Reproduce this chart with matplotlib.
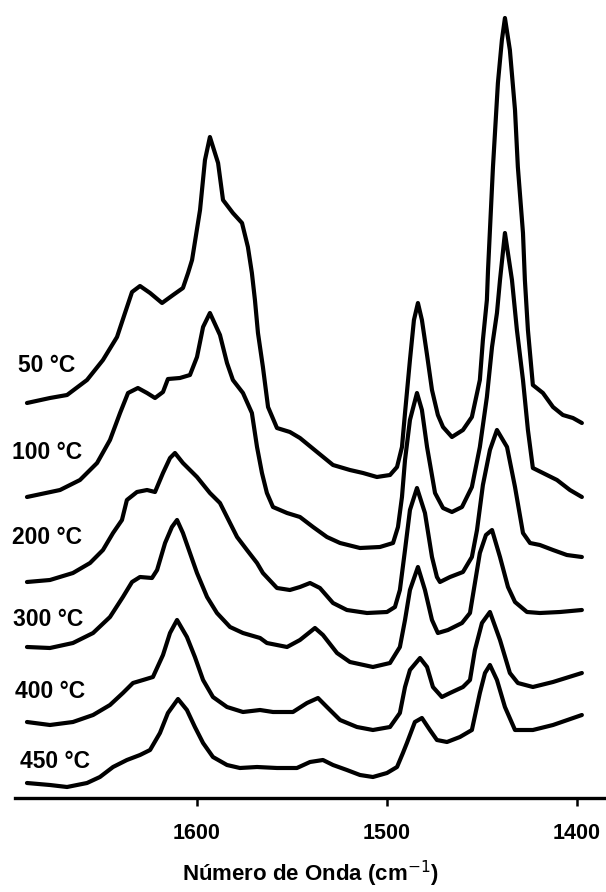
import matplotlib
matplotlib.use("Agg")
import matplotlib.pyplot as plt

plt.rcParams['font.family'] = ['Liberation Sans', 'DejaVu Sans']

# espectros IR (numero de onda en cm-1, absorbancia desplazada en u.a.)
wn_50 = [1689.5, 1677.4, 1668.4, 1657.9, 1649.5, 1642.1, 1637.9, 1634.2, 1630.0, 1624.7,
         1618.4, 1612.6, 1607.4, 1604.7, 1602.6, 1598.4, 1595.8, 1593.2, 1588.9, 1586.3,
         1581.1, 1576.3, 1573.2, 1571.1, 1569.5, 1567.9, 1565.3, 1562.6, 1557.9, 1551.1,
         1545.8, 1536.8, 1528.4, 1519.5, 1512.6, 1505.3, 1498.4, 1494.7, 1492.1, 1490.5,
         1487.9, 1485.8, 1483.7, 1481.6, 1478.9, 1476.3, 1473.2, 1470.5, 1465.8, 1460.0,
         1455.3, 1451.1, 1449.5, 1447.4, 1446.8, 1444.2, 1441.6, 1439.5, 1437.9, 1435.3,
         1432.6, 1431.1, 1428.4, 1427.4, 1425.8, 1423.2, 1417.9, 1412.6, 1407.4, 1402.1,
         1397.4]
a_50 = [3.95, 4.00, 4.03, 4.18, 4.38, 4.61, 4.85, 5.06, 5.12, 5.05,
        4.95, 5.03, 5.10, 5.25, 5.38, 5.88, 6.38, 6.61, 6.35, 5.98,
        5.85, 5.75, 5.51, 5.25, 4.98, 4.65, 4.31, 3.91, 3.70, 3.66,
        3.60, 3.46, 3.33, 3.28, 3.25, 3.21, 3.23, 3.31, 3.51, 3.85,
        4.38, 4.78, 4.95, 4.78, 4.43, 4.08, 3.83, 3.71, 3.61, 3.68,
        3.81, 4.18, 4.58, 4.98, 5.28, 6.31, 7.15, 7.58, 7.80, 7.48,
        6.88, 6.31, 5.65, 5.18, 4.68, 4.13, 4.05, 3.91, 3.83, 3.80,
        3.75]

wn_100 = [1689.5, 1672.1, 1661.6, 1652.6, 1645.8, 1640.5, 1636.3, 1631.1, 1626.3, 1622.1,
          1617.9, 1615.3, 1609.0, 1603.7, 1600.0, 1596.8, 1593.2, 1587.9, 1584.2, 1581.1,
          1575.8, 1571.1, 1568.4, 1565.8, 1563.2, 1560.0, 1552.6, 1545.8, 1538.9, 1531.6,
          1524.7, 1514.2, 1503.7, 1496.8, 1494.2, 1492.1, 1490.5, 1487.9, 1484.2, 1481.6,
          1478.9, 1474.7, 1470.5, 1465.8, 1460.5, 1455.3, 1451.1, 1447.4, 1444.7, 1442.1,
          1440.5, 1437.9, 1434.2, 1431.6, 1428.4, 1425.8, 1423.2, 1417.9, 1410.5, 1403.7,
          1397.4]
a_100 = [3.01, 3.08, 3.18, 3.35, 3.58, 3.85, 4.05, 4.10, 4.05, 4.00,
         4.06, 4.19, 4.20, 4.23, 4.41, 4.71, 4.85, 4.63, 4.35, 4.18,
         4.05, 3.85, 3.51, 3.25, 3.05, 2.91, 2.85, 2.81, 2.71, 2.61,
         2.55, 2.50, 2.51, 2.55, 2.71, 3.01, 3.38, 3.78, 4.05, 3.88,
         3.51, 3.05, 2.90, 2.86, 2.91, 3.11, 3.51, 4.01, 4.51, 4.85,
         5.18, 5.65, 5.18, 4.68, 4.18, 3.68, 3.30, 3.25, 3.18, 3.08,
         3.01]

wn_200 = [1689.5, 1677.4, 1665.3, 1656.3, 1649.5, 1644.2, 1639.5, 1636.9, 1631.6, 1626.3,
          1622.1, 1617.9, 1614.2, 1611.6, 1607.4, 1600.0, 1593.2, 1587.9, 1584.2, 1578.9,
          1573.7, 1568.4, 1565.3, 1557.9, 1551.1, 1545.8, 1540.5, 1535.3, 1528.4, 1521.1,
          1510.5, 1500.0, 1495.8, 1493.2, 1490.5, 1487.9, 1484.2, 1480.0, 1476.3, 1473.7,
          1472.1, 1466.8, 1460.0, 1455.3, 1452.6, 1449.5, 1445.8, 1442.1, 1436.8, 1432.6,
          1428.4, 1424.7, 1419.5, 1412.6, 1405.3, 1397.4]
a_200 = [2.16, 2.18, 2.25, 2.35, 2.48, 2.65, 2.78, 2.98, 3.06, 3.08,
         3.06, 3.25, 3.40, 3.45, 3.35, 3.21, 3.05, 2.95, 2.81, 2.61,
         2.48, 2.35, 2.25, 2.10, 2.08, 2.11, 2.15, 2.10, 1.95, 1.88,
         1.85, 1.86, 1.91, 2.08, 2.48, 2.88, 3.10, 2.85, 2.41, 2.21,
         2.16, 2.21, 2.26, 2.41, 2.68, 3.13, 3.48, 3.68, 3.51, 3.11,
         2.65, 2.55, 2.53, 2.48, 2.43, 2.41]

wn_300 = [1689.5, 1677.4, 1665.3, 1654.7, 1645.8, 1639.0, 1634.2, 1630.0, 1623.7, 1621.0,
          1616.8, 1613.2, 1610.5, 1607.4, 1603.7, 1600.0, 1594.7, 1589.5, 1582.6, 1575.8,
          1566.8, 1563.2, 1552.6, 1545.8, 1537.9, 1533.7, 1526.3, 1519.5, 1507.4, 1498.4,
          1493.2, 1490.5, 1487.9, 1483.7, 1480.0, 1476.3, 1473.2, 1467.9, 1460.5, 1456.3,
          1453.7, 1451.1, 1447.9, 1444.7, 1440.5, 1436.3, 1432.6, 1426.3, 1419.5, 1408.9,
          1397.4]
a_300 = [1.51, 1.50, 1.55, 1.65, 1.81, 2.01, 2.16, 2.21, 2.20, 2.28,
         2.55, 2.71, 2.78, 2.65, 2.45, 2.25, 2.01, 1.85, 1.71, 1.65,
         1.60, 1.55, 1.51, 1.58, 1.70, 1.63, 1.45, 1.36, 1.31, 1.35,
         1.51, 1.78, 2.08, 2.31, 2.08, 1.78, 1.65, 1.68, 1.75, 1.85,
         2.15, 2.45, 2.63, 2.68, 2.41, 2.11, 1.96, 1.86, 1.85, 1.86,
         1.88]

wn_400 = [1689.5, 1677.4, 1665.3, 1654.7, 1645.8, 1639.0, 1633.7, 1628.4, 1623.2, 1617.9,
          1614.2, 1610.5, 1605.3, 1601.1, 1596.8, 1591.6, 1584.2, 1575.8, 1566.8, 1560.0,
          1549.5, 1542.1, 1536.3, 1531.6, 1524.7, 1515.8, 1507.4, 1498.4, 1493.2, 1490.5,
          1487.9, 1482.6, 1478.9, 1475.8, 1471.1, 1466.8, 1460.0, 1456.3, 1453.7, 1450.0,
          1445.8, 1440.5, 1435.3, 1431.1, 1423.2, 1412.6, 1397.4]
a_400 = [0.76, 0.73, 0.76, 0.83, 0.93, 1.05, 1.15, 1.18, 1.21, 1.43,
         1.65, 1.78, 1.61, 1.41, 1.18, 1.01, 0.91, 0.86, 0.88, 0.86,
         0.86, 0.95, 1.00, 0.91, 0.78, 0.71, 0.68, 0.71, 0.85, 1.11,
         1.28, 1.40, 1.31, 1.11, 1.01, 1.05, 1.11, 1.18, 1.48, 1.75,
         1.86, 1.58, 1.25, 1.15, 1.11, 1.16, 1.25]

wn_450 = [1689.5, 1677.4, 1668.4, 1657.9, 1651.1, 1644.2, 1636.9, 1630.0, 1624.7, 1619.5,
          1615.3, 1610.0, 1605.3, 1601.1, 1596.8, 1591.6, 1584.2, 1577.4, 1568.4, 1557.9,
          1547.4, 1540.5, 1533.7, 1528.4, 1521.1, 1514.2, 1507.4, 1500.0, 1494.7, 1491.6,
          1489.5, 1485.3, 1481.6, 1477.4, 1473.7, 1468.4, 1461.6, 1455.3, 1451.1, 1448.4,
          1445.8, 1442.1, 1437.9, 1432.6, 1423.2, 1412.6, 1397.4]
a_450 = [0.15, 0.13, 0.11, 0.15, 0.21, 0.31, 0.38, 0.43, 0.48, 0.65,
         0.85, 0.99, 0.88, 0.71, 0.55, 0.41, 0.33, 0.30, 0.31, 0.30,
         0.30, 0.36, 0.38, 0.33, 0.28, 0.23, 0.21, 0.25, 0.31, 0.45,
         0.55, 0.76, 0.80, 0.68, 0.58, 0.56, 0.61, 0.68, 1.05, 1.25,
         1.33, 1.18, 0.91, 0.68, 0.68, 0.73, 0.83]

temperaturas = ['50 °C', '100 °C', '200 °C', '300 °C', '400 °C', '450 °C']
espectros = [(wn_50, a_50), (wn_100, a_100), (wn_200, a_200),
             (wn_300, a_300), (wn_400, a_400), (wn_450, a_450)]

# posicion de las etiquetas (cm-1, u.a.)
pos_etiquetas = [(1694.2, 4.33), (1697.4, 3.46), (1697.4, 2.60),
                 (1696.8, 1.79), (1695.8, 1.06), (1693.2, 0.36)]

fig = plt.figure(figsize=(6.06, 8.92), dpi=100)
ax = fig.add_axes([15/606, 94/892, 591/606, 793/892])

for (wn, a) in espectros:
    ax.plot(wn, a, color='black', linewidth=3.0, solid_joinstyle='round',
            solid_capstyle='round')

for t, (x, y) in zip(temperaturas, pos_etiquetas):
    ax.text(x, y, t, ha='left', va='center', fontsize=16.5, fontweight='bold')

ax.set_xlim(1695.8, 1384.7)
ax.set_ylim(0, 7.93)
ax.set_xticks([1600, 1500, 1400])
ax.set_yticks([])
ax.tick_params(axis='x', direction='out', length=6, width=1.8, pad=12, labelsize=15.5)
for lbl in ax.get_xticklabels():
    lbl.set_fontweight('bold')
for s in ['left', 'right', 'top']:
    ax.spines[s].set_visible(False)
ax.spines['bottom'].set_linewidth(2.4)
ax.set_xlabel('Número de Onda (cm$^{-1}$)', fontsize=16, fontweight='bold', labelpad=11)

fig.savefig('out.png', dpi=100)
